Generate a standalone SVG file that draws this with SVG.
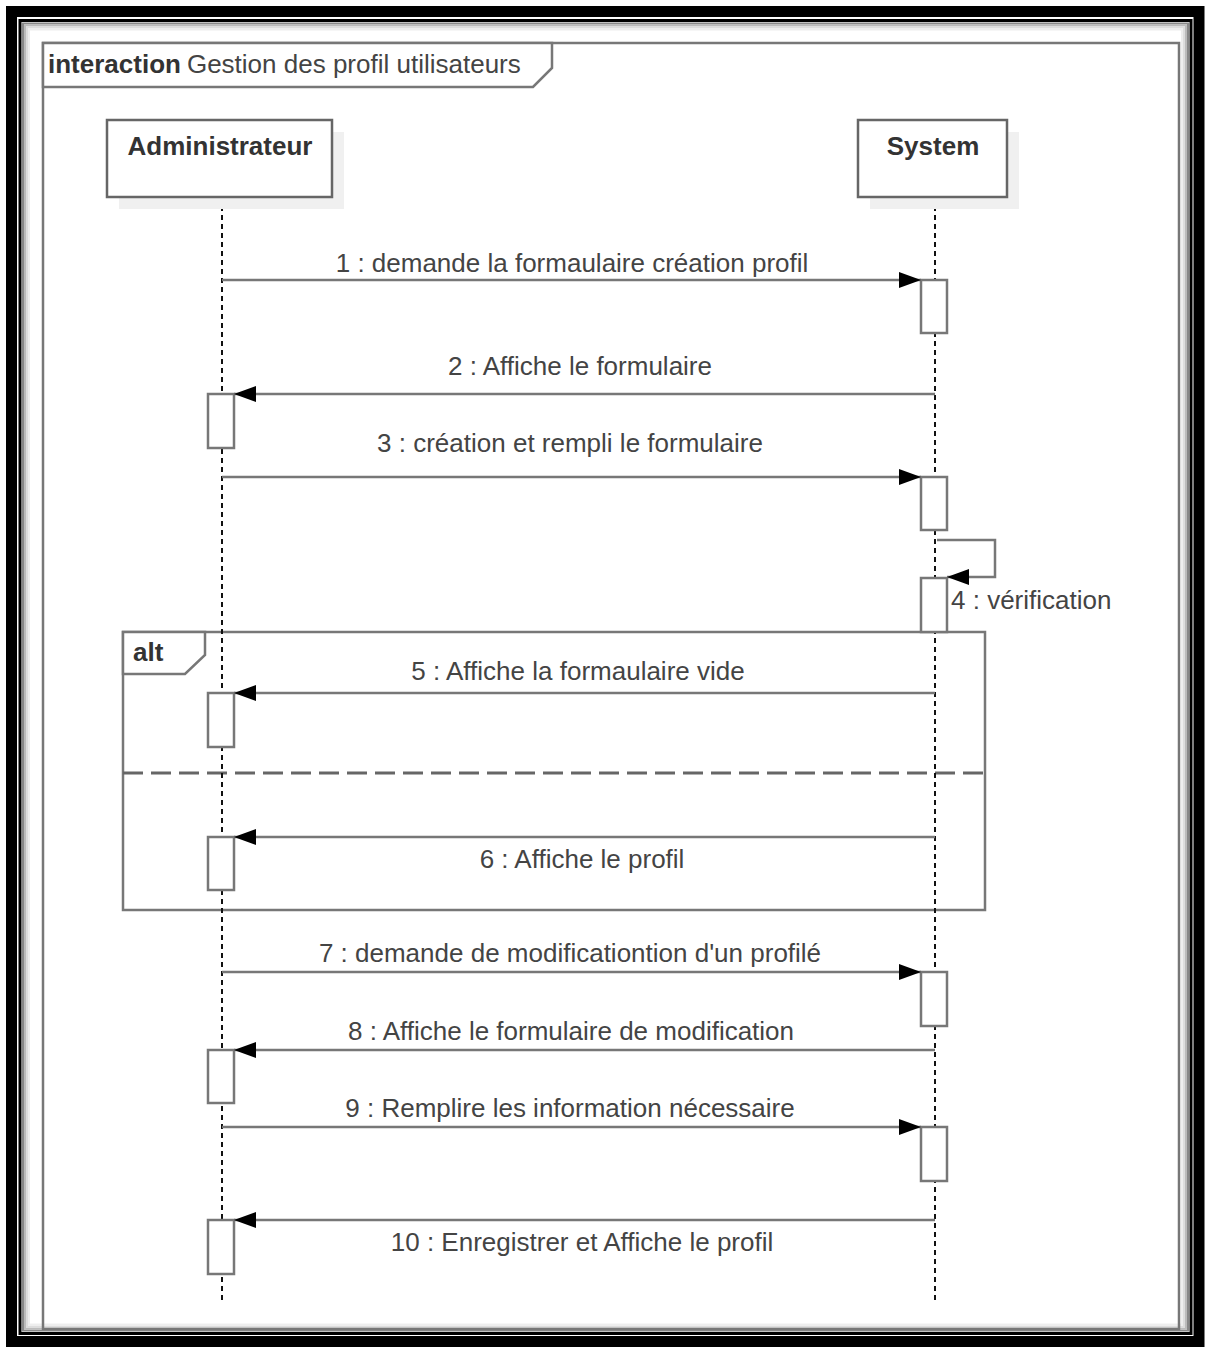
<svg xmlns="http://www.w3.org/2000/svg" width="1205" height="1349" viewBox="0 0 1205 1349">
<defs>
<marker id="arr" markerUnits="userSpaceOnUse" markerWidth="24" markerHeight="18" refX="22" refY="8" orient="auto">
<path d="M0,0 L22,8 L0,16 z" fill="#000"/>
</marker>
<style>
.ln{stroke:#777;stroke-width:2.5;fill:none}
.life{stroke:#111;stroke-width:2;stroke-dasharray:5,4;fill:none}
.box{fill:#fff;stroke:#666;stroke-width:2.5}
.shadow{fill:#f0f0f0;stroke:none}
.act{fill:#fff;stroke:#777;stroke-width:2.5}
.msg{font-family:"Liberation Sans",Arial,sans-serif;font-size:26px;fill:#444}
.hdr{font-family:"Liberation Sans",Arial,sans-serif;font-size:26px;font-weight:bold;fill:#333}
.frm{fill:#fff;stroke:#777;stroke-width:2.5}
</style>
</defs>
<rect width="1205" height="1349" fill="#fff"/>
<!-- outer border -->
<g id="border">
<rect x="11.5" y="11.5" width="1187.5" height="1330" fill="none" stroke="#000" stroke-width="11"/>
<rect x="20" y="20.5" width="1171" height="1313" fill="none" stroke="#000" stroke-width="3"/>
<rect x="23" y="23.5" width="1165" height="1307" fill="none" stroke="#888" stroke-width="2"/>
<rect x="25" y="25.5" width="1161" height="1303" fill="none" stroke="#bbb" stroke-width="2"/>
<rect x="27" y="27.5" width="1157" height="1299" fill="none" stroke="#ddd" stroke-width="2"/>
<rect x="29" y="29.5" width="1153" height="1295" fill="none" stroke="#eee" stroke-width="2"/>
</g>
<g id="frame">
<rect x="43" y="43" width="1136" height="1286" fill="none" stroke="#777" stroke-width="2.5"/>
<path d="M43,43 H552 V68 L533,87 H43 Z" class="frm"/>
<text x="48" y="73" class="hdr" style="fill:#333">interaction<tspan class="msg" style="font-weight:normal" dx="6">Gestion des profil utilisateurs</tspan></text>
</g>
<g id="alt">
<rect x="123" y="632" width="862" height="278" fill="none" stroke="#777" stroke-width="2.5"/>
<path d="M123,632 H205 V655 L185,674 H123 Z" fill="#fff" stroke="#777" stroke-width="2.5"/>
<text x="133" y="661" class="hdr">alt</text>
<line x1="123" y1="773" x2="985" y2="773" stroke="#666" stroke-width="3" stroke-dasharray="20,8"/>
</g>
<g id="lifelines">
<line x1="222" y1="197" x2="222" y2="1302" class="life"/>
<line x1="935" y1="197" x2="935" y2="1302" class="life"/>
</g>
<g id="Administrateur">
<rect x="119" y="132" width="225" height="77" class="shadow"/>
<rect x="107" y="120" width="225" height="77" class="box"/>
<text x="220" y="155" text-anchor="middle" class="hdr">Administrateur</text>
</g>
<g id="System">
<rect x="870" y="132" width="149" height="77" class="shadow"/>
<rect x="858" y="120" width="149" height="77" class="box"/>
<text x="933" y="155" text-anchor="middle" class="hdr">System</text>
</g>
<g id="activations">
<rect x="921" y="280" width="26" height="53" class="act"/>
<rect x="208" y="394" width="26" height="54" class="act"/>
<rect x="921" y="477" width="26" height="53" class="act"/>
<rect x="921" y="578" width="26" height="54" class="act"/>
<rect x="208" y="693" width="26" height="54" class="act"/>
<rect x="208" y="837" width="26" height="53" class="act"/>
<rect x="921" y="972" width="26" height="54" class="act"/>
<rect x="208" y="1050" width="26" height="53" class="act"/>
<rect x="921" y="1127" width="26" height="54" class="act"/>
<rect x="208" y="1220" width="26" height="54" class="act"/>
</g>
<g id="connectors">
<line x1="222" y1="280" x2="921" y2="280" class="ln" marker-end="url(#arr)"/>
<line x1="935" y1="394" x2="234" y2="394" class="ln" marker-end="url(#arr)"/>
<line x1="222" y1="477" x2="921" y2="477" class="ln" marker-end="url(#arr)"/>
<path d="M937,540 H995 V577 H947" class="ln" marker-end="url(#arr)"/>
<line x1="935" y1="693" x2="234" y2="693" class="ln" marker-end="url(#arr)"/>
<line x1="935" y1="837" x2="234" y2="837" class="ln" marker-end="url(#arr)"/>
<line x1="222" y1="972" x2="921" y2="972" class="ln" marker-end="url(#arr)"/>
<line x1="935" y1="1050" x2="234" y2="1050" class="ln" marker-end="url(#arr)"/>
<line x1="222" y1="1127" x2="921" y2="1127" class="ln" marker-end="url(#arr)"/>
<line x1="935" y1="1220" x2="234" y2="1220" class="ln" marker-end="url(#arr)"/>
</g>
<g id="labels">
<text x="572" y="272" text-anchor="middle" class="msg">1 : demande la formaulaire création profil</text>
<text x="580" y="375" text-anchor="middle" class="msg">2 : Affiche le formulaire</text>
<text x="570" y="452" text-anchor="middle" class="msg">3 : création et rempli le formulaire</text>
<text x="951" y="609" class="msg">4 : vérification</text>
<text x="578" y="680" text-anchor="middle" class="msg">5 : Affiche la formaulaire vide</text>
<text x="582" y="868" text-anchor="middle" class="msg">6 : Affiche le profil</text>
<text x="570" y="962" text-anchor="middle" class="msg">7 : demande de modificationtion d'un profilé</text>
<text x="571" y="1040" text-anchor="middle" class="msg">8 : Affiche le formulaire de modification</text>
<text x="570" y="1117" text-anchor="middle" class="msg">9 : Remplire les information nécessaire</text>
<text x="582" y="1251" text-anchor="middle" class="msg">10 : Enregistrer et Affiche le profil</text>
</g>
</svg>
